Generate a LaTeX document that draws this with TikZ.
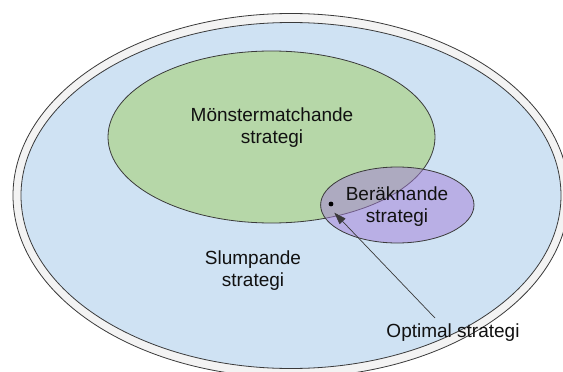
\documentclass[tikz,border=0pt]{standalone}
\usepackage{fontspec}
\setmainfont{Liberation Sans}
\usetikzlibrary{arrows.meta}
\definecolor{ringfill}{HTML}{F3F3F3}
\definecolor{bluefill}{HTML}{CFE2F3}
\definecolor{greenfill}{HTML}{B6D7A8}
\definecolor{purplefill}{HTML}{A57ED8}
\definecolor{edgecol}{HTML}{3A3A3A}
\definecolor{txtcol}{HTML}{111111}
\tikzset{
  setedge/.style={draw=edgecol, line width=0.8pt},
  lbl/.style={font=\fontsize{19}{22}\selectfont, text=txtcol, align=center, inner sep=0pt},
  pointer/.style={draw=edgecol, line width=0.7pt, -{Triangle[length=12pt,width=8pt]}}
}
\begin{document}
\begin{tikzpicture}[x=1pt,y=-1pt]
\useasboundingbox (0,0) rectangle (563,372);
\fill[white] (0,0) rectangle (563,372);
% outer ring
\draw[setedge, fill=ringfill] (291,195.5) ellipse [x radius=278pt, y radius=182pt];
% random strategy set
\draw[setedge, fill=bluefill] (291,195.5) ellipse [x radius=270pt, y radius=173pt];
% pattern matching set
\draw[setedge, fill=greenfill] (271.5,137) ellipse [x radius=163.5pt, y radius=86pt];
% computing set
\draw[setedge, fill=purplefill, fill opacity=0.5] (397.3,205) ellipse [x radius=76.7pt, y radius=38pt];
% labels
\node[lbl] (monster) at (272,128) {Mönstermatchande\\strategi};
\node[lbl] (berak) at (397,207) {Beräknande\\strategi};
\node[lbl] (slump) at (253,271) {Slumpande\\strategi};
\node[lbl, anchor=base] (opt) at (453,337) {Optimal strategi};
% optimal point
\coordinate (dot) at (331,204);
\fill[black] (dot) circle [radius=2.4pt];
\coordinate (astart) at (435,318);
\coordinate (atip) at (334.3,212.7);
\draw[pointer] (astart) -- (atip);
\end{tikzpicture}
\end{document}
